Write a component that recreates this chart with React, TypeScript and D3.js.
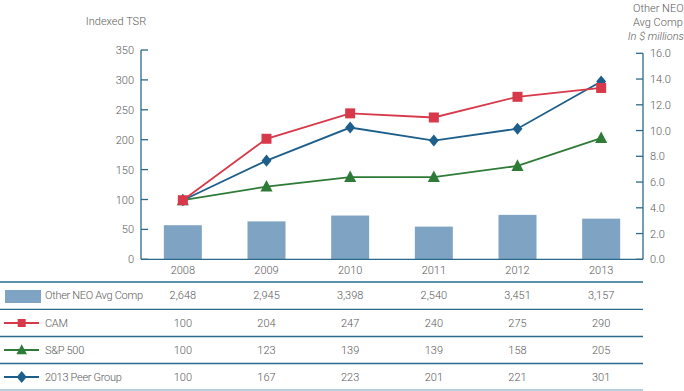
import React from "react";
import * as d3 from "d3";

const years = ["2008", "2009", "2010", "2011", "2012", "2013"];
const neoComp = [2648, 2945, 3398, 2540, 3451, 3157];
const cam = [100, 204, 247, 240, 275, 290];
const sp500 = [100, 123, 139, 139, 158, 205];
const peer = [100, 167, 223, 201, 221, 301];
const leftTicks = [0, 50, 100, 150, 200, 250, 300, 350];
const rightTicks = [0, 2, 4, 6, 8, 10, 12, 14, 16];

const W = 684, H = 391;
const AX = "#2b6a8c";
const TXT = "#5a5a5a";
const BAR = "#7fa3c3";
const RED = "#d8394a";
const GREEN = "#2e7b37";
const BLUE = "#1d5e8a";
const FONT = "Roboto, 'Liberation Sans', sans-serif";

const BASE = 259.3;
const LEFT = 141;
const RIGHT = 643;

export default function App() {
  const x = d3.scaleBand<string>().domain(years).range([LEFT, RIGHT]).paddingInner(0.546).paddingOuter(0.273);
  const yL = d3.scaleLinear().domain([0, 350]).range([BASE, 50]);
  const yLine = d3.scaleLinear().domain([0, 350]).range([BASE, 52.5]);
  const yR = d3.scaleLinear().domain([0, 16]).range([BASE, 53.3]);
  const cx = (y: string) => (x(y) as number) + x.bandwidth() / 2;
  const line = d3.line<number>().x((_, i) => cx(years[i])).y((d) => yLine(d));

  const square = (px: number, py: number, s: number, key: any) => (
    <rect key={key} x={px - s / 2} y={py - s / 2} width={s} height={s} fill={RED} />
  );
  const tri = (px: number, py: number, s: number, key: any) => (
    <path key={key} d={`M${px},${py - s * 0.6}L${px + s * 0.55},${py + s * 0.45}L${px - s * 0.55},${py + s * 0.45}Z`} fill={GREEN} />
  );
  const diamond = (px: number, py: number, s: number, key: any) => (
    <path key={key} d={`M${px},${py - s * 0.55}L${px + s * 0.45},${py}L${px},${py + s * 0.55}L${px - s * 0.45},${py}Z`} fill={BLUE} />
  );

  const rowLines = [282, 309.3, 336.5, 363.5, 390];
  const rowY = [295, 323, 350, 377];
  const tableRows = [
    { label: "Other NEO Avg Comp", vals: neoComp.map((v) => d3.format(",")(v)) },
    { label: "CAM", vals: cam.map(String) },
    { label: "S&P 500", vals: sp500.map(String) },
    { label: "2013 Peer Group", vals: peer.map(String) },
  ];

  return (
    <svg width={W} height={H} style={{ position: "absolute", left: 0, top: 0, background: "#fff" }} fontFamily={FONT}>
      {/* titles */}
      <text x={116} y={25} fontSize={11} fill={TXT} textAnchor="middle" fontWeight={300}>Indexed TSR</text>
      <text x={633} y={12} fontSize={11} fill={TXT} fontWeight={300}>Other NEO</text>
      <text x={633} y={26} fontSize={11} fill={TXT} fontWeight={300}>Avg Comp</text>
      <text x={684} y={40} fontSize={11} fill={TXT} textAnchor="end" fontStyle="italic" fontWeight={300}>In $ millions</text>

      {/* bars */}
      {years.map((yr, i) => (
        <rect key={yr} x={x(yr)} y={yR(neoComp[i] / 1000)} width={x.bandwidth()} height={BASE - yR(neoComp[i] / 1000)} fill={BAR} />
      ))}

      {/* left axis */}
      <line x1={LEFT} x2={LEFT} y1={yL(350)} y2={BASE} stroke={AX} strokeWidth={1.3} />
      {leftTicks.map((t) => (
        <g key={t}>
          <line x1={LEFT} x2={LEFT + 7} y1={yL(t)} y2={yL(t)} stroke={AX} strokeWidth={1.3} />
          <text x={134} y={yL(t) + 4} fontSize={11} fill={TXT} textAnchor="end" fontWeight={300}>{t}</text>
        </g>
      ))}
      {/* right axis */}
      <line x1={RIGHT} x2={RIGHT} y1={yR(16)} y2={BASE} stroke={AX} strokeWidth={1.3} />
      {rightTicks.map((t) => (
        <g key={t}>
          <line x1={RIGHT - 7} x2={RIGHT} y1={yR(t)} y2={yR(t)} stroke={AX} strokeWidth={1.3} />
          <text x={650} y={yR(t) + 4} fontSize={11} fill={TXT} fontWeight={300}>{t.toFixed(1)}</text>
        </g>
      ))}
      {/* x axis */}
      <line x1={LEFT} x2={RIGHT} y1={BASE} y2={BASE} stroke={AX} strokeWidth={1.3} />
      {years.map((yr) => (
        <text key={yr} x={cx(yr)} y={274} fontSize={11} fill={TXT} textAnchor="middle" fontWeight={300}>{yr}</text>
      ))}

      {/* lines */}
      <path d={line(sp500) as string} fill="none" stroke={GREEN} strokeWidth={1.8} />
      <path d={line(peer) as string} fill="none" stroke={BLUE} strokeWidth={1.8} />
      <path d={line(cam) as string} fill="none" stroke={RED} strokeWidth={1.8} />
      {sp500.map((v, i) => tri(cx(years[i]), yLine(v), 11, "s" + i))}
      {peer.map((v, i) => diamond(cx(years[i]), yLine(v), 11, "p" + i))}
      {cam.map((v, i) => square(cx(years[i]), yLine(v), 10, "c" + i))}

      {/* table */}
      {rowLines.map((ly, i) => (
        <line key={ly} x1={0} x2={RIGHT} y1={ly} y2={ly} stroke={i === rowLines.length - 1 ? "#9bbfd2" : AX} strokeWidth={1.3} />
      ))}
      <rect x={5} y={290} width={36} height={13} fill={BAR} />
      <line x1={4} x2={39} y1={rowY[1]} y2={rowY[1]} stroke={RED} strokeWidth={1.8} />
      {square(21.7, rowY[1], 8, "lc")}
      <line x1={4} x2={39} y1={rowY[2]} y2={rowY[2]} stroke={GREEN} strokeWidth={1.8} />
      {tri(21.7, rowY[2], 9.5, "ls")}
      <line x1={4} x2={39} y1={rowY[3]} y2={rowY[3]} stroke={BLUE} strokeWidth={1.8} />
      {diamond(21.7, rowY[3], 11, "lp")}
      {tableRows.map((r, ri) => (
        <g key={r.label}>
          <text x={45} y={rowY[ri] + 4} fontSize={11} fill={TXT} fontWeight={300} letterSpacing={-0.3}>{r.label}</text>
          {r.vals.map((v, i) => (
            <text key={i} x={cx(years[i])} y={rowY[ri] + 4} fontSize={11} fill={TXT} textAnchor="middle" fontWeight={300}>{v}</text>
          ))}
        </g>
      ))}
    </svg>
  );
}
